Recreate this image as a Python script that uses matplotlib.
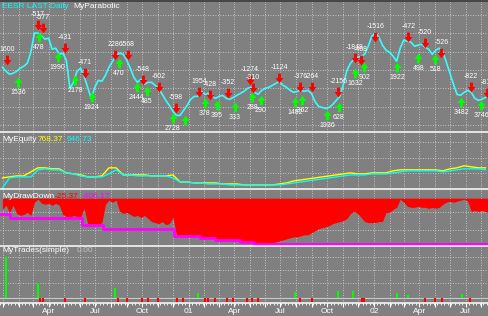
import numpy as np
import pandas as pd
import matplotlib
matplotlib.use('Agg')
import matplotlib.pyplot as plt
import matplotlib.dates as mdates
from matplotlib.lines import Line2D
from matplotlib.path import Path

plt.rcParams['font.family'] = ['Liberation Sans', 'DejaVu Sans']

# weekly closes (arbitrary price units)
price = [73, 69, 66, 67, 69, 72, 74, 77, 88, 107,
         107, 104, 101, 102, 91, 92, 86, 87, 80, 52,
         58, 69, 72, 64, 53, 42, 53, 60, 59, 65,
         73, 79, 85, 87, 86, 80, 72, 63, 58, 61,
         56, 58, 58, 55, 52, 46, 40, 35, 29, 25,
         25, 30, 35, 41, 44, 44, 49, 46, 47, 44,
         42, 44, 45, 42, 41, 43, 45, 47, 49, 52,
         53, 48, 46, 50, 52, 53, 55, 57, 59, 55,
         53, 50, 48, 49, 50, 49, 50, 47, 39, 34,
         33, 32, 33, 36, 40, 44, 56, 70, 77, 81,
         83, 84, 86, 94, 104, 107, 103, 95, 90, 88,
         84, 79, 92, 100, 99, 98, 94, 95, 96, 93,
         91, 86, 90, 92, 88, 78, 67, 56, 46, 45,
         48, 50, 48, 42, 40, 41, 43, 44]
price_dates = pd.date_range('1999-12-31', periods=len(price), freq='7D')

sell_dates = ['2000-01-09', '2000-03-10', '2000-03-20', '2000-05-02', '2000-06-10',
              '2000-08-09', '2000-09-03', '2000-10-03', '2000-11-04', '2000-12-07',
              '2001-01-21', '2001-02-12', '2001-03-20', '2001-05-02', '2001-05-08',
              '2001-06-28', '2001-08-09', '2001-09-01', '2001-10-23', '2001-11-25',
              '2001-12-07', '2002-01-04', '2002-03-10', '2002-04-12', '2002-05-14',
              '2002-07-12', '2002-08-13']
sell_level = [80, 115, 112, 92, 67, 85, 85, 60, 53, 32, 48, 45, 47, 60, 52,
              62, 53, 53, 48, 82, 80, 103, 103, 97, 87, 53, 47]
sell_text = ['1600', '-517', '-577', '-431', '-471', '2286', '-568', '-548', '-602',
             '-598', '1954', '-428', '-352', '-1274', '-310', '-1124', '-376', '-264',
             '-2156', '-1848', '-468', '-1516', '-472', '-520', '-526', '-822', '-816']

buy_dates = ['2000-01-31', '2000-03-12', '2000-04-18', '2000-05-22', '2000-06-24',
             '2000-08-17', '2000-09-21', '2000-10-11', '2000-12-01', '2000-12-25',
             '2001-02-02', '2001-02-26', '2001-04-02', '2001-05-06', '2001-05-23',
             '2001-07-30', '2001-08-12', '2001-10-01', '2001-10-24', '2001-11-25',
             '2001-12-13', '2002-02-16', '2002-03-30', '2002-05-02', '2002-06-22',
             '2002-08-01']
buy_level = [58, 103, 83, 60, 43, 77, 53, 49, 22, 20, 37, 35, 33, 43, 40,
             38, 40, 25, 33, 67, 73, 73, 82, 81, 38, 35]
buy_text = ['1536', '478', '1990', '2178', '1924', '470', '2444', '485', '2728', '',
            '378', '395', '333', '288', '290', '1482', '-362', '1936', '628', '1632',
            '902', '1922', '498', '518', '3482', '3746']

# equity, every two weeks
equity_a = [12, 13, 14, 14, 18, 22, 22, 21, 21, 17, 16, 15, 13, 13, 14, 22, 22, 15,
            15, 15, 15, 14, 14, 14, 15, 8, 8, 7, 7, 7, 7, 6, 6, 6, 5, 5, 5, 5, 5, 6,
            7, 9, 10, 11, 12, 13, 14, 15, 16, 17, 16, 16, 17, 17, 17, 19, 20, 20, 20,
            20, 20, 20, 19, 21, 22, 24, 23, 22, 22]
equity_b = [2, 12, 13, 13, 13, 20, 21, 20, 20, 17, 16, 14, 13, 13, 13, 16, 20, 15,
            15, 14, 14, 14, 14, 14, 12, 8, 8, 7, 7, 6, 6, 6, 5, 5, 5, 5, 5, 5, 5, 5,
            6, 7, 8, 9, 10, 11, 12, 13, 14, 15, 15, 15, 16, 16, 16, 17, 18, 19, 19,
            19, 19, 19, 18, 19, 20, 21, 21, 21, 20]

# weekly drawdown
drawdown = [-11, -7, -14, -7, -15, -17, -16, -14, -17, -4, -1, -5, -6, -5, -7, -5, -7,
            -16, -18, -19, -17, -18, -19, -10, -25, -26, -25, -26, -24,
            -6, -2, -4, -2, -13, -15, -14, -16, -18, -17, -19, -17, -20, -23, -24, -25,
            -23, -26, -25, -19,
            -36, -37, -37, -37, -37, -37, -37, -39, -39, -39, -39,
            -41, -41, -41, -41, -41, -41, -41, -43, -43, -43, -43,
            -45, -45, -45, -45, -45,
            -44, -43, -42, -41, -40, -39, -38, -38, -37, -36, -36, -34, -32, -30, -29,
            -28, -27, -25, -24, -23, -22, -20, -15, -13, -15, -19, -23, -24, -24, -24,
            -23, -23, -14, -14, -11, -9, -1, -4, -8, -9, -9, -8, -9, -9, -10, -9, -10,
            -9, -6, -4, -3, -4, -3, -2, -1, -3, -13, -12, -13, -12, -13, -14]
maxdd_dates = ['1999-12-26', '2000-01-14', '2000-06-04', '2000-07-16', '2000-12-03',
               '2001-01-23', '2001-02-22', '2001-04-12', '2001-05-10', '2002-08-16']
maxdd = [-16, -19, -26, -30, -37, -39, -41, -43, -45, -45]

win_dates = ['2000-01-07', '2000-03-10', '2000-08-09', '2001-01-20', '2001-07-30',
             '2001-10-23', '2001-11-21', '2002-02-16', '2002-03-10', '2002-06-24']
win_value = [41, 15, 10, 5, 6, 7, 7, 5, 3, 4]
loss_dates = ['2000-03-14', '2000-03-20', '2000-05-02', '2000-06-10', '2000-08-15',
              '2000-09-01', '2000-10-01', '2000-10-13', '2000-11-01', '2000-12-09',
              '2000-12-21', '2001-02-02', '2001-02-08', '2001-02-22', '2001-03-18',
              '2001-03-30', '2001-04-26', '2001-05-06', '2001-05-18', '2001-08-09',
              '2001-09-01', '2001-12-09', '2001-12-13', '2002-04-12', '2002-05-02',
              '2002-05-16', '2002-07-10']
loss_value = [-4, -4, -4, -4, -4, -4, -5, -4, -4, -6, -4, -4, -4, -4, -4, -4, -4, -4,
              -4, -4, -4, -4, -4, -4, -4, -4, -4]

BG = '#808080'
W, H = 489, 316
x_lo, x_hi = pd.Timestamp('1999-12-26 05:00'), pd.Timestamp('2002-08-16')

fig = plt.figure(figsize=(W / 100, H / 100), dpi=100, facecolor=BG)


def rect(top, bottom):
    return [0, 1 - bottom / H, 1, (bottom - top) / H]


def ftext(x, y, s, c, size=6):
    fig.text(x / W, 1 - y / H, s, color=c, fontsize=size, ha='left', va='center')


ax1 = fig.add_axes(rect(0, 131.5))
ax2 = fig.add_axes(rect(131.5, 189))
ax3 = fig.add_axes(rect(189, 245.5))
ax4 = fig.add_axes(rect(245.5, 303))

for ax in (ax1, ax2, ax3, ax4):
    ax.set_facecolor(BG)
    for s in ax.spines.values():
        s.set_visible(False)
    ax.set_xlim(x_lo, x_hi)
    ax.xaxis.set_major_locator(mdates.MonthLocator())
    ax.grid(True, color='#dadada', ls=(0, (1, 2)), lw=0.6)
    ax.set_axisbelow(True)
    ax.tick_params(axis='y', length=0, labelleft=False)
    ax.tick_params(axis='x', length=0, labelbottom=False)

ax1.set_ylim(9, 140)
ax1.set_yticks([125, 107, 88, 70, 52, 33, 15])
ax2.set_ylim(1, 58)
ax2.set_yticks([48, 32, 17])
ax3.set_ylim(-46.5, 9)
ax3.set_yticks([-14, -31])
ax4.set_ylim(-5, 52)
ax4.set_yticks([41, 28, 15])

# price panel
ax1.plot(price_dates, price, color='#33ffff', lw=1.2)
down = Path([(-0.3, 1), (0.3, 1), (0.3, 0.1), (0.8, 0.1), (0, -1), (-0.8, 0.1), (-0.3, 0.1), (-0.3, 1)])
up = Path([(-0.3, -1), (0.3, -1), (0.3, -0.1), (0.8, -0.1), (0, 1), (-0.8, -0.1), (-0.3, -0.1), (-0.3, -1)])
sd = pd.to_datetime(sell_dates)
bd = pd.to_datetime(buy_dates)
ax1.plot(sd, sell_level, ls='none', marker=down, ms=7, mfc='#ff0000', mew=0, zorder=4)
ax1.plot(bd, buy_level, ls='none', marker=up, ms=7, mfc='#00ff00', mew=0, zorder=4)
for d, lv, t in zip(sd, sell_level, sell_text):
    ax1.annotate(t, (d, lv), xytext=(0, 7.5), textcoords='offset points', ha='center',
                 va='center', color='white', fontsize=5, annotation_clip=False, zorder=5)
for d, lv, t in zip(bd, buy_level, buy_text):
    ax1.annotate(t, (d, lv), xytext=(0, -7.5), textcoords='offset points', ha='center',
                 va='center', color='white', fontsize=5, annotation_clip=False, zorder=5)

# equity panel
eq_dates = pd.date_range('1999-12-31', periods=len(equity_a), freq='14D')
ax2.plot(eq_dates, equity_a, color='#ffff00', lw=1)
ax2.plot(pd.date_range('1999-12-31', periods=len(equity_b), freq='14D'), equity_b,
         color='#00ffff', lw=1)

# drawdown panel
dd_dates = pd.date_range('1999-12-31', periods=len(drawdown), freq='7D')
ax3.fill_between(dd_dates, 0, drawdown, color='#ff0000', lw=0)
ax3.plot(pd.to_datetime(maxdd_dates), maxdd, color='#ff00ff', lw=2, drawstyle='steps-post')

# trades panel
ax4.axhline(0, color='#c8c8c8', lw=0.8)
ax4.vlines(pd.to_datetime(win_dates), 0, win_value, color='#00ff00', lw=1.5)
ax4.vlines(pd.to_datetime(loss_dates), 0, loss_value, color='#ff0000', lw=1.5)


def qfmt(x, pos=None):
    d = mdates.num2date(x)
    if d.year < 2000 or (d.year == 2000 and d.month == 1):
        return ''
    if d.month == 1:
        return d.strftime('%y')
    if d.month in (4, 7, 10):
        return d.strftime('%b')
    return ''


ax4.xaxis.set_major_formatter(plt.FuncFormatter(qfmt))
ax4.xaxis.set_minor_locator(mdates.WeekdayLocator(byweekday=mdates.MO))
ax4.tick_params(axis='x', which='major', length=3, width=0.8, color='white',
                labelbottom=True, labelcolor='white', labelsize=6, pad=0.5)
ax4.tick_params(axis='x', which='minor', length=1.5, width=0.6, color='white')

# separators
for y in (131.5, 189, 245.5, 303):
    fig.add_artist(Line2D([0, 1], [1 - y / H] * 2, transform=fig.transFigure,
                          color='white', lw=1.1))
fig.add_artist(Line2D([0, 1], [1 - 0.7 / H] * 2, transform=fig.transFigure,
                      color='#3c3c3c', lw=1.2))

ftext(2, 7, 'EESR LAST-Daily', '#00ffff')
ftext(73, 7, 'MyParabolic', 'white')
ftext(2, 140, 'MyEquity', 'white')
ftext(38, 140, '768.37', '#ffff00')
ftext(67, 140, '646.73', '#00ffff')
ftext(2, 196, 'MyDrawDown', 'white')
ftext(55, 196, '-25.37', '#ff0000')
ftext(82, 196, '-406.17', '#ff00ff')
ftext(2, 251, 'MyTrades(simple)', 'white')
ftext(77, 251, '0.00', '#c0c0c0')

fig.savefig('out.png', dpi=100, facecolor=BG)
